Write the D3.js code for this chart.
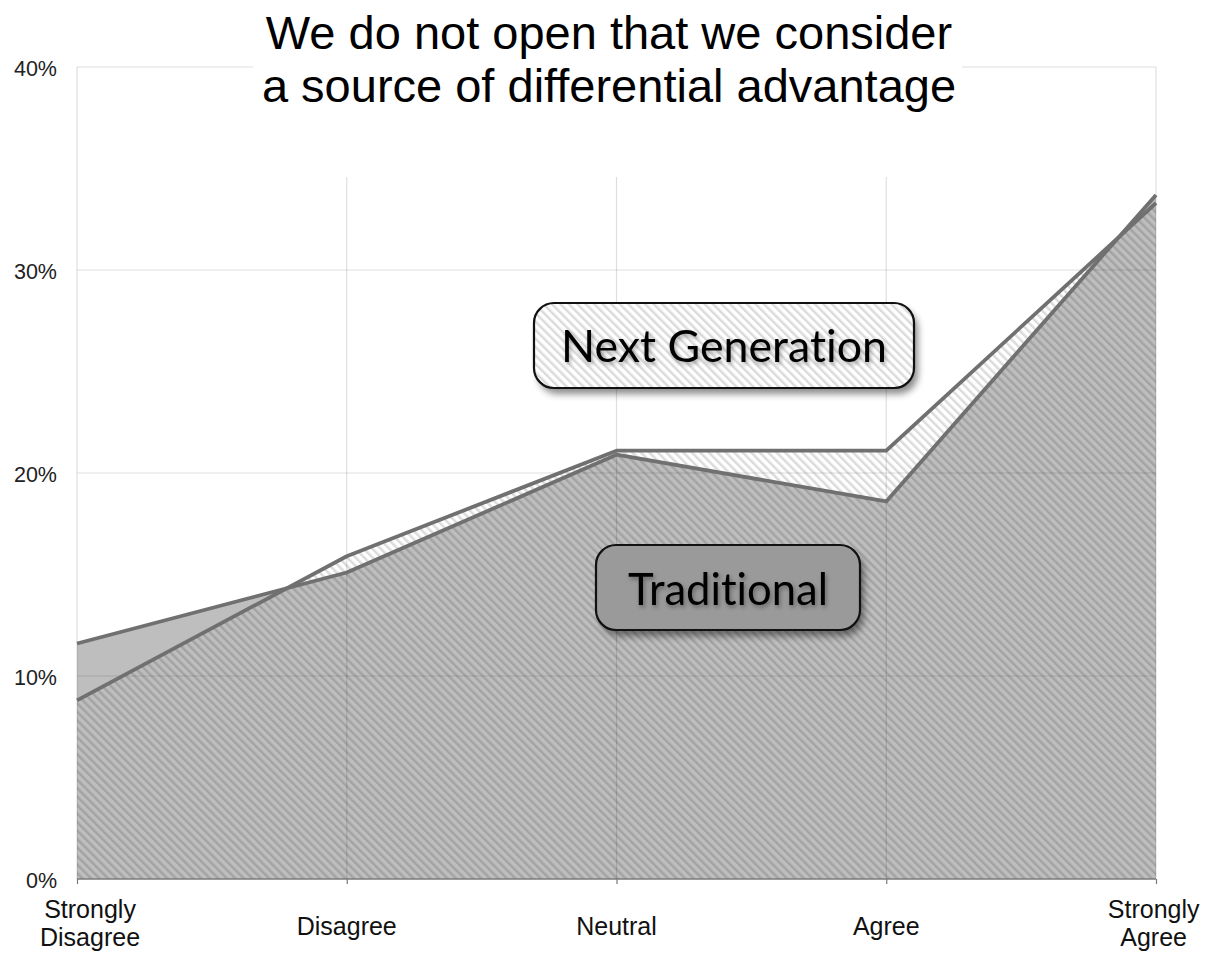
<!DOCTYPE html>
<html>
<head>
<meta charset="utf-8">
<script src="https://cdn.jsdelivr.net/npm/d3@7"></script>
<style>
  html, body { margin: 0; padding: 0; background: #fff; }
  svg { display: block; }
  .legend-text { font-variant-ligatures: none; font-feature-settings: "liga" 0, "clig" 0; }
</style>
</head>
<body>
<svg id="chart" width="1211" height="960"></svg>
<script>
const categories = ["Strongly Disagree", "Disagree", "Neutral", "Agree", "Strongly Agree"];
const traditional = [11.6, 15.1, 20.9, 18.6, 33.7];
const nextGeneration = [8.8, 15.9, 21.1, 21.1, 33.3];
const yTicks = [0, 10, 20, 30, 40];
const titleLines = ["We do not open that we consider", "a source of differential advantage"];
const seriesNames = ["Next Generation", "Traditional"];

const svg = d3.select("#chart");
const x = d3.scalePoint().domain(categories).range([77, 1156]);
const y = d3.scaleLinear().domain([0, 40]).range([879, 67]);

const defs = svg.append("defs");
const pat = defs.append("pattern")
  .attr("id", "hatch").attr("patternUnits", "userSpaceOnUse")
  .attr("width", 6).attr("height", 6)
  .attr("patternTransform", "rotate(-45)");
pat.append("rect").attr("x", 0).attr("y", 0).attr("width", 2.5).attr("height", 6)
  .attr("fill", "rgba(0,0,0,0.14)");

const shadow = defs.append("filter").attr("id", "shadow")
  .attr("x", "-20%").attr("y", "-30%").attr("width", "140%").attr("height", "170%");
shadow.append("feDropShadow").attr("dx", 4).attr("dy", 6).attr("stdDeviation", 3.5)
  .attr("flood-color", "#000").attr("flood-opacity", 0.45);
const tshadow = defs.append("filter").attr("id", "tshadow")
  .attr("x", "-10%").attr("y", "-30%").attr("width", "120%").attr("height", "170%");
tshadow.append("feDropShadow").attr("dx", 1.5).attr("dy", 2.5).attr("stdDeviation", 2)
  .attr("flood-color", "#000").attr("flood-opacity", 0.35);

const tradData = categories.map((c, i) => ({c, v: traditional[i]}));
const ngData = categories.map((c, i) => ({c, v: nextGeneration[i]}));

const area = d3.area().x(d => x(d.c)).y0(y(0)).y1(d => y(d.v));
const line = d3.line().x(d => x(d.c)).y(d => y(d.v));

// areas
svg.append("path").datum(tradData).attr("d", area).attr("fill", "#bebebe");
svg.append("path").datum(ngData).attr("d", area).attr("fill", "url(#hatch)");

// gridlines
const grid = svg.append("g");
grid.selectAll("line.h").data(yTicks.filter(t => t > 0)).join("line")
  .attr("x1", 77).attr("x2", 1156)
  .attr("y1", d => y(d)).attr("y2", d => y(d))
  .attr("stroke", "rgba(0,0,0,0.13)").attr("stroke-width", 1.2);
grid.selectAll("line.v").data(categories).join("line")
  .attr("x1", d => x(d)).attr("x2", d => x(d))
  .attr("y1", y(40)).attr("y2", y(0))
  .attr("stroke", "rgba(0,0,0,0.13)").attr("stroke-width", 1.2);

// title background
svg.append("rect").attr("x", 253).attr("y", 0).attr("width", 709).attr("height", 177).attr("fill", "#fff");

// lines
[tradData, ngData].forEach(dat => {
  svg.append("path").datum(dat).attr("d", line)
    .attr("fill", "none").attr("stroke", "#707070").attr("stroke-width", 3.8).attr("stroke-linejoin", "round");
});

// x axis
const xAxis = d3.axisBottom(x).tickSize(5).tickFormat("");
const gx = svg.append("g").attr("transform", `translate(0,${y(0)})`).call(xAxis);
gx.select(".domain").attr("stroke", "#7a7a7a").attr("stroke-width", 1.5).attr("d", `M77,0H1156`);
gx.selectAll(".tick line").attr("stroke", "#7a7a7a").attr("stroke-width", 1.2);

// x labels
const xl = svg.append("g").attr("font-family", "'Liberation Sans', Arial, sans-serif")
  .attr("font-size", 25).attr("fill", "#111");
categories.forEach(c => {
  const words = c.split(" ");
  const t = xl.append("text").attr("text-anchor", "middle").attr("x", x(c));
  if (words.length > 1) {
    t.append("tspan").attr("x", x(c)).attr("y", 918).text(words[0]);
    t.append("tspan").attr("x", x(c)).attr("y", 946).text(words.slice(1).join(" "));
  } else {
    t.attr("y", 935).text(c);
  }
  const bb = t.node().getBBox();
  let shift = 0;
  if (bb.x < 40) shift = 40 - bb.x;
  if (bb.x + bb.width > 1200) shift = 1200 - (bb.x + bb.width);
  t.attr("transform", `translate(${shift},0)`);
});

// y labels
svg.append("g").selectAll("text").data(yTicks).join("text")
  .attr("x", 57).attr("y", d => y(d) + 9)
  .attr("text-anchor", "end")
  .attr("font-family", "'Liberation Sans', Arial, sans-serif")
  .attr("font-size", 21.5).attr("fill", "#222")
  .text(d => d + "%");

// title
svg.append("g").selectAll("text").data(titleLines).join("text")
  .attr("x", 609).attr("y", (d, i) => 49 + i * 53)
  .attr("text-anchor", "middle")
  .attr("font-family", "'Liberation Sans', Arial, sans-serif")
  .attr("font-size", 47).attr("fill", "#000")
  .text(d => d);

// legend boxes
function legendBox(x0, y0, w, h, fill, hatch, label, textW, baseline) {
  const g = svg.append("g");
  g.append("rect").attr("x", x0).attr("y", y0).attr("width", w).attr("height", h)
    .attr("rx", 20).attr("ry", 20).attr("fill", fill).attr("filter", "url(#shadow)");
  if (hatch) {
    g.append("rect").attr("x", x0).attr("y", y0).attr("width", w).attr("height", h)
      .attr("rx", 20).attr("ry", 20).attr("fill", "url(#hatch)");
  }
  g.append("rect").attr("x", x0).attr("y", y0).attr("width", w).attr("height", h)
    .attr("rx", 20).attr("ry", 20).attr("fill", "none").attr("stroke", "#111").attr("stroke-width", 2.2);
  const t = g.append("text").attr("class", "legend-text").attr("x", x0 + w / 2).attr("y", baseline)
    .attr("text-anchor", "middle")
    .attr("font-family", "Lato, 'Open Sans', sans-serif")
    .attr("font-size", 46).attr("fill", "#000").attr("filter", "url(#tshadow)")
    .text(label);
  const len = t.node().getComputedTextLength();
  t.attr("font-size", 46 * textW / len);
}
legendBox(534, 303, 380, 85, "#fff", true, seriesNames[0], 326, 362);
legendBox(596, 545, 264, 85, "#9a9a9a", false, seriesNames[1], 200, 605);
</script>
</body>
</html>
